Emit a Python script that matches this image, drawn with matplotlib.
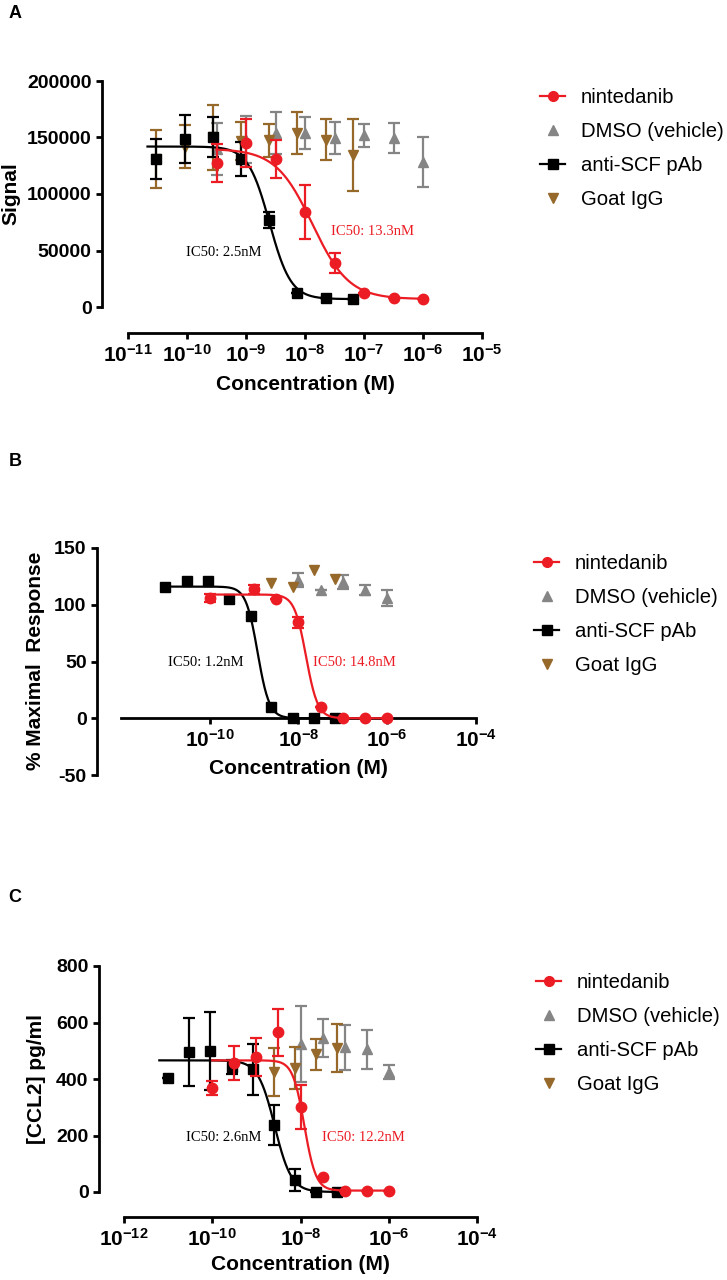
import numpy as np
import matplotlib
matplotlib.use("Agg")
import matplotlib.pyplot as plt
from matplotlib.lines import Line2D
from matplotlib.ticker import FixedLocator, FuncFormatter

plt.rcParams["font.family"] = ["Liberation Sans", "DejaVu Sans"]
plt.rcParams["font.weight"] = "bold"
plt.rcParams["mathtext.default"] = "bf"
plt.rcParams["mathtext.fontset"] = "custom"
plt.rcParams["mathtext.bf"] = "Liberation Sans:bold"

RED = "#ec1c24"
GRAY = "#858585"
BROWN = "#96692a"
BLACK = "#000000"

# ---- Panel A: Signal ----
a_ab_logx = [-10.52, -10.04, -9.56, -9.08, -8.61, -8.13, -7.65, -7.18]
a_ab_y = [131000, 148700, 150400, 131000, 77000, 12400, 8000, 7500]
a_ab_err = [17500, 21000, 18000, 15000, 7000, 0, 0, 0]
a_igg_y = [131000, 142000, 150000, 147000, 147500, 154000, 148000, 134500]
a_igg_err = [26000, 19000, 29000, 17000, 14500, 19000, 18000, 32000]
a_nin_logx = [-9.5, -9.0, -8.5, -8.0, -7.5, -7.0, -6.5, -6.0]
a_nin_y = [127400, 145000, 131000, 84000, 39000, 12400, 8000, 7000]
a_nin_err = [16500, 21000, 17000, 24000, 9000, 0, 0, 0]
a_dmso_y = [140000, 148000, 154000, 154000, 149500, 152000, 149500, 128000]
a_dmso_err = [23000, 21000, 19000, 14500, 14000, 10000, 13000, 22000]
a_fit_ab = (142000, 7000, 2.5e-9, 2.4)   # top, bottom, IC50, hill
a_fit_nin = (140000, 7000, 13.3e-9, 1.4)

# ---- Panel B: % Maximal Response ----
b_ab_logx = [-11.0, -10.52, -10.04, -9.56, -9.08, -8.61, -8.13, -7.65, -7.18]
b_ab_y = [115.5, 120.8, 121, 105, 90, 10, 0, 0, 0]
b_nin_logx = [-10.0, -9.0, -8.5, -8.0, -7.5, -7.0, -6.5, -6.0]
b_nin_y = [106, 113.7, 105, 84.6, 9.7, 0, 0, 0]
b_nin_err = [3.7, 4, 0, 5, 0, 0, 0, 0]
b_igg_logx = [-8.61, -8.13, -7.65, -7.18]
b_igg_y = [119, 116, 130.5, 122.6]
b_dmso_logx = [-8.0, -7.5, -7.0, -6.5, -6.0]
b_dmso_y = [121.7, 113, 120, 113, 106]
b_dmso_err = [6, 0, 6, 4, 7]
b_fit_ab = (116, 0, 1.2e-9, 3.3)
b_fit_nin = (109, 0, 14.8e-9, 3.3)

# ---- Panel C: [CCL2] pg/ml ----
c_ab_logx = [-11.0, -10.52, -10.04, -9.56, -9.08, -8.61, -8.13, -7.65, -7.18]
c_ab_y = [403, 495, 498, 442, 435, 237, 42, 0, 0]
c_ab_err = [0, 121, 138, 24, 90, 70, 40, 0, 0]
c_nin_logx = [-10.0, -9.5, -9.0, -8.5, -8.0, -7.5, -7.0, -6.5, -6.0]
c_nin_y = [367, 456, 477, 565, 300, 53, 5, 5, 5]
c_nin_err = [25, 60, 68, 82, 78, 0, 0, 0, 0]
c_igg_logx = [-8.61, -8.13, -7.65, -7.18]
c_igg_y = [424, 438, 488, 509]
c_igg_err = [85, 75, 55, 85]
c_dmso_logx = [-8.0, -7.5, -7.0, -6.5, -6.0]
c_dmso_y = [523, 544, 512, 505, 424]
c_dmso_err = [135, 67, 80, 70, 25]
c_fit_ab = (466, 0, 2.6e-9, 2.3)
c_fit_nin = (466, 5, 12.2e-9, 3.3)

labels = ["nintedanib", "DMSO (vehicle)", "anti-SCF pAb", "Goat IgG"]

W, H = 727, 1280
fig = plt.figure(figsize=(W / 100, H / 100), dpi=100)


def px_axes(l, t, r, b):
    return fig.add_axes([l / W, 1 - b / H, (r - l) / W, (b - t) / H])


def fpt(x, y):
    return (x / W, 1 - y / H)


def logistic(fit, logx):
    top, bottom, ic50, hill = fit
    xs = np.logspace(min(logx), max(logx), 300)
    return xs, bottom + (top - bottom) / (1 + (xs / ic50) ** hill)


def points(ax, logx, y, err, marker, color, z):
    x = 10 ** np.asarray(logx)
    ax.errorbar(x, y, yerr=err, fmt=marker, color=color, ms=7.5, mec=color,
                elinewidth=1.6, capsize=4, capthick=1.6, zorder=z)


def style(ax, xticks, yticks, ylim, xlim):
    ax.set_xscale("log")
    ax.set_xlim(*xlim)
    ax.set_ylim(*ylim)
    ax.xaxis.set_major_locator(FixedLocator([10.0 ** e for e in xticks]))
    ax.xaxis.set_minor_locator(FixedLocator([]))
    ax.xaxis.set_major_formatter(FuncFormatter(
        lambda v, p: "$10^{%d}$" % int(round(np.log10(v)))))
    ax.set_yticks(yticks)
    ax.set_yticklabels([str(v) for v in yticks])
    for s in ("top", "right"):
        ax.spines[s].set_visible(False)
    for s in ("left", "bottom"):
        ax.spines[s].set_linewidth(2)
    ax.tick_params(width=2, length=4.5, labelsize=14, pad=3)
    ax.tick_params(axis="x", labelsize=15)
    ax.patch.set_alpha(0)


def legend(ax, x, y):
    handles = [
        Line2D([], [], color=RED, marker="o", lw=1.6, ms=7),
        Line2D([], [], color=GRAY, marker="^", ls="none", ms=6.5),
        Line2D([], [], color=BLACK, marker="s", lw=1.6, ms=6.5),
        Line2D([], [], color=BROWN, marker="v", ls="none", ms=6.5),
    ]
    ax.legend(handles, labels, loc="upper left", bbox_to_anchor=fpt(x, y),
              bbox_transform=fig.transFigure, frameon=False, borderpad=0,
              borderaxespad=0, handlelength=1.25, handletextpad=0.75,
              labelspacing=0.74, prop={"size": 14.6, "weight": "normal"})


def ic50_text(ax, lx, y, s, color):
    ax.text(10 ** lx, y, s, color=color, fontsize=10.5, ha="center", va="center",
            family=["Liberation Serif", "DejaVu Serif"], weight="normal")


def labels_xy(ax, xl, xpos, yl, ypos):
    ax.set_xlabel(xl, fontsize=15, fontweight="bold", va="center", ha="center")
    ax.xaxis.set_label_coords(*fpt(*xpos), transform=fig.transFigure)
    ax.set_ylabel(yl, fontsize=15, fontweight="bold", va="center", ha="center")
    ax.yaxis.set_label_coords(*fpt(*ypos), transform=fig.transFigure)


# Panel A
axA = px_axes(102, 81, 482, 307)
points(axA, a_nin_logx, a_dmso_y, a_dmso_err, "^", GRAY, 2)
points(axA, a_ab_logx, a_igg_y, a_igg_err, "v", BROWN, 3)
points(axA, a_ab_logx, a_ab_y, a_ab_err, "s", BLACK, 4)
axA.plot(*logistic(a_fit_ab, [a_ab_logx[0] - 0.15, a_ab_logx[-1]]), color=BLACK, lw=1.6, zorder=4)
points(axA, a_nin_logx, a_nin_y, a_nin_err, "o", RED, 5)
axA.plot(*logistic(a_fit_nin, a_nin_logx), color=RED, lw=1.6, zorder=5)
style(axA, list(range(-11, -4)), list(range(0, 200001, 50000)), (0, 200000),
      (10 ** -11.441, 1e-5))
axA.spines["bottom"].set_position(("outward", 26 * 0.72))
axA.spines["bottom"].set_bounds(1e-11, 1e-5)
ic50_text(axA, -9.373, 47800, "IC50: 2.5nM", BLACK)
ic50_text(axA, -6.864, 66400, "IC50: 13.3nM", RED)
labels_xy(axA, "Concentration (M)", (305, 384), "Signal", (11, 194))
legend(axA, 540, 88)

# Panel B
axB = px_axes(97, 548, 476, 775)
points(axB, b_dmso_logx, b_dmso_y, b_dmso_err, "^", GRAY, 2)
points(axB, b_igg_logx, b_igg_y, None, "v", BROWN, 3)
points(axB, b_ab_logx, b_ab_y, None, "s", BLACK, 4)
axB.plot(*logistic(b_fit_ab, b_ab_logx), color=BLACK, lw=1.6, zorder=4)
points(axB, b_nin_logx, b_nin_y, b_nin_err, "o", RED, 5)
axB.plot(*logistic(b_fit_nin, b_nin_logx), color=RED, lw=1.6, zorder=5)
style(axB, [-10, -8, -6, -4], [-50, 0, 50, 100, 150], (-50, 150),
      (10 ** -12.54, 1e-4))
axB.spines["bottom"].set_position(("data", 0))
axB.spines["bottom"].set_bounds(1e-12, 1e-4)
ic50_text(axB, -10.09, 49.4, "IC50: 1.2nM", BLACK)
ic50_text(axB, -6.73, 49.4, "IC50: 14.8nM", RED)
labels_xy(axB, "Concentration (M)", (298, 768), "% Maximal  Response", (36, 661))
legend(axB, 534, 554)

# Panel C
axC = px_axes(99, 966, 477, 1192)
points(axC, c_dmso_logx, c_dmso_y, c_dmso_err, "^", GRAY, 2)
points(axC, c_igg_logx, c_igg_y, c_igg_err, "v", BROWN, 3)
points(axC, c_ab_logx, c_ab_y, c_ab_err, "s", BLACK, 4)
axC.plot(*logistic(c_fit_ab, [c_ab_logx[0] - 0.2, c_ab_logx[-1]]), color=BLACK, lw=1.6, zorder=4)
points(axC, c_nin_logx, c_nin_y, c_nin_err, "o", RED, 5)
axC.plot(*logistic(c_fit_nin, c_nin_logx), color=RED, lw=1.6, zorder=5)
style(axC, [-12, -10, -8, -6, -4], [0, 200, 400, 600, 800], (0, 800),
      (10 ** -12.567, 1e-4))
axC.spines["bottom"].set_position(("outward", 25 * 0.72))
axC.spines["bottom"].set_bounds(1e-12, 1e-4)
ic50_text(axC, -9.73, 194, "IC50: 2.6nM", BLACK)
ic50_text(axC, -6.58, 194, "IC50: 12.2nM", RED)
labels_xy(axC, "Concentration (M)", (300, 1265), "[CCL2] pg/ml", (37, 1079))
legend(axC, 536, 973)

for letter, (x, y) in zip("ABC", [(15, 14), (15, 462), (15, 897)]):
    fig.text(*fpt(x, y), letter, fontsize=13, fontweight="bold", ha="center", va="center")

for ax in (axA, axB, axC):
    for c in ax.lines + ax.collections:
        c.set_clip_on(False)

fig.savefig("out.png", dpi=100)
